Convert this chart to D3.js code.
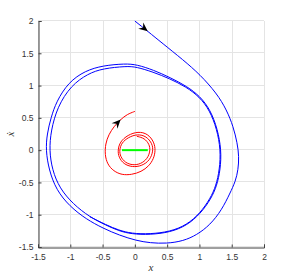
<!DOCTYPE html>
<html>
<head>
<meta charset="utf-8">
<script src="https://cdn.jsdelivr.net/npm/d3@7"></script>
<style>
  body { margin: 0; background: #fff; }
  svg { display: block; }
</style>
</head>
<body>
<svg id="chart"></svg>
<script>
const width = 291;
const height = 279;

const xTicks = [-1.5, -1, -0.5, 0, 0.5, 1, 1.5, 2];
const yTicks = [-1.5, -1, -0.5, 0, 0.5, 1, 1.5, 2];

// blue trajectory: starts at (0, 2) and winds onto the limit cycle
const bluePath = [
  [0.0, 2.0], [0.2, 1.84], [0.42, 1.66], [0.75, 1.396], [1.009, 1.17],
  [1.268, 0.88], [1.422, 0.622], [1.525, 0.363], [1.587, 0.106], [1.613, -0.1],
  [1.6, -0.3], [1.56, -0.48], [1.473, -0.668], [1.345, -0.927], [1.164, -1.159],
  [0.958, -1.314], [0.75, -1.407], [0.493, -1.447], [0.234, -1.437], [0.022, -1.4],
  [-0.236, -1.32], [-0.493, -1.21], [-0.752, -1.07], [-1.01, -0.87], [-1.217, -0.617],
  [-1.33, -0.307], [-1.38, 0.0], [-1.36, 0.25], [-1.3, 0.5], [-1.217, 0.75],
  [-1.03, 1.05], [-0.77, 1.23], [-0.493, 1.31], [-0.15, 1.34], [0.03, 1.325],
  [0.29, 1.24], [0.545, 1.125], [0.805, 0.99], [1.012, 0.832], [1.168, 0.625],
  [1.28, 0.33], [1.34, 0.0], [1.325, -0.3], [1.27, -0.55], [1.18, -0.755],
  [1.015, -0.985], [0.805, -1.168], [0.545, -1.272], [0.234, -1.31], [-0.05, -1.3],
  [-0.25, -1.25], [-0.442, -1.165], [-0.701, -1.035], [-0.958, -0.834], [-1.165, -0.591],
  [-1.28, -0.307], [-1.325, 0.0], [-1.3, 0.3], [-1.2, 0.67], [-0.99, 1.0],
  [-0.726, 1.185], [-0.493, 1.265], [-0.132, 1.3], [0.022, 1.29], [0.281, 1.21],
  [0.538, 1.108], [0.797, 0.978], [1.003, 0.823], [1.158, 0.618], [1.27, 0.33],
  [1.33, 0.0], [1.312, -0.3], [1.258, -0.55], [1.168, -0.75], [1.009, -0.978],
  [0.803, -1.159], [0.544, -1.263], [0.234, -1.3], [-0.05, -1.292], [-0.25, -1.24],
  [-0.442, -1.159], [-0.7, -1.03]
];

// red trajectory: rings round the rest segment, then out to (0, 0.6)
const redPath = [
  [0.03, 0.215], [0.15, 0.185], [0.225, 0.09], [0.24, -0.01], [0.195, -0.135],
  [0.09, -0.215], [-0.03, -0.235], [-0.15, -0.195], [-0.225, -0.1], [-0.24, 0.0],
  [-0.205, 0.115], [-0.1, 0.2], [0.04, 0.25], [0.18, 0.215], [0.27, 0.1],
  [0.285, -0.01], [0.235, -0.155], [0.11, -0.245], [-0.04, -0.265], [-0.175, -0.215],
  [-0.25, -0.11], [-0.265, 0.0], [-0.23, 0.13], [-0.11, 0.235], [0.05, 0.29],
  [0.2, 0.255], [0.3, 0.125], [0.32, -0.01], [0.29, -0.135], [0.22, -0.245],
  [0.1, -0.335], [-0.05, -0.38], [-0.2, -0.385], [-0.33, -0.325], [-0.425, -0.22],
  [-0.465, -0.07], [-0.455, 0.1], [-0.405, 0.24], [-0.325, 0.365], [-0.22, 0.475],
  [-0.12, 0.555], [0.0, 0.6]
];

const greenSegment = [[-0.2, 0.0], [0.2, 0.0]];

// arrowheads: tail point -> tip point (data units)
const arrows = [
  { from: [0.1, 1.92], to: [0.2, 1.84] },
  { from: [-0.3, 0.39], to: [-0.22, 0.475] }
];

const x = d3.scaleLinear().domain([-1.5, 2]).range([38, 264]);
const y = d3.scaleLinear().domain([-1.5, 2]).range([247, 21]);

const svg = d3.select("#chart").attr("width", width).attr("height", height);

// grid
const grid = svg.append("g").attr("stroke", "#e4e4e4").attr("stroke-width", 1);
grid.selectAll(".gx")
  .data(xTicks)
  .enter()
  .append("line")
  .attr("x1", (d) => Math.round(x(d)) + 0.5)
  .attr("x2", (d) => Math.round(x(d)) + 0.5)
  .attr("y1", y(-1.5))
  .attr("y2", y(2));
grid.selectAll(".gy")
  .data(yTicks)
  .enter()
  .append("line")
  .attr("y1", (d) => Math.round(y(d)) - 0.5)
  .attr("y2", (d) => Math.round(y(d)) - 0.5)
  .attr("x1", x(-1.5))
  .attr("x2", x(2));

const line = d3
  .line()
  .x((d) => x(d[0]))
  .y((d) => y(d[1]))
  .curve(d3.curveBasis);

svg.append("path")
  .attr("d", line(bluePath))
  .attr("fill", "none")
  .attr("stroke", "#0000ff")
  .attr("stroke-width", 1);

svg.append("path")
  .attr("d", line(redPath))
  .attr("fill", "none")
  .attr("stroke", "#ff0000")
  .attr("stroke-width", 1);

svg.append("path")
  .attr("d", d3.line().x((d) => x(d[0])).y((d) => y(d[1]))(greenSegment))
  .attr("fill", "none")
  .attr("stroke", "#00ff00")
  .attr("stroke-width", 2);

// arrowheads
arrows.forEach((a) => {
  const x0 = x(a.from[0]), y0 = y(a.from[1]);
  const x1 = x(a.to[0]), y1 = y(a.to[1]);
  const ang = (Math.atan2(y1 - y0, x1 - x0) * 180) / Math.PI;
  svg.append("path")
    .attr("d", "M0,0 L-9,-4 L-6,0 L-9,4 Z")
    .attr("transform", `translate(${x1},${y1}) rotate(${ang})`)
    .attr("fill", "#000");
});

// axes
const xAxis = d3.axisBottom(x).tickValues(xTicks).tickSize(-3).tickPadding(6)
  .tickFormat((d) => String(d));
const gx = svg.append("g")
  .attr("transform", `translate(0, ${Math.round(y(-1.5)) + 0.5})`)
  .call(xAxis);

const yAxis = d3.axisLeft(y).tickValues(yTicks).tickSize(-3).tickPadding(5)
  .tickFormat((d) => String(d));
const gy = svg.append("g")
  .attr("transform", `translate(${Math.round(x(-1.5)) + 0.5}, 0)`)
  .call(yAxis);

[gx, gy].forEach((g) => {
  g.select(".domain").attr("stroke", "#404040");
  g.selectAll(".tick line").attr("stroke", "#404040");
  g.selectAll(".tick text")
    .attr("fill", "#333")
    .style("font-family", "'Liberation Sans', Arial, sans-serif")
    .style("font-size", "8.5px");
});

// axis labels
svg.append("text")
  .attr("x", (x(-1.5) + x(2)) / 2)
  .attr("y", 271)
  .attr("text-anchor", "middle")
  .style("font-family", "'Liberation Serif', 'DejaVu Serif', serif")
  .style("font-style", "italic")
  .style("font-size", "11px")
  .attr("fill", "#333")
  .text("x");

svg.append("text")
  .attr("transform", `translate(14, ${(y(-1.5) + y(2)) / 2}) rotate(-90)`)
  .attr("text-anchor", "middle")
  .style("font-family", "'Liberation Serif', 'DejaVu Serif', serif")
  .style("font-style", "italic")
  .style("font-size", "11px")
  .attr("fill", "#333")
  .text("ẋ");
</script>
</body>
</html>
